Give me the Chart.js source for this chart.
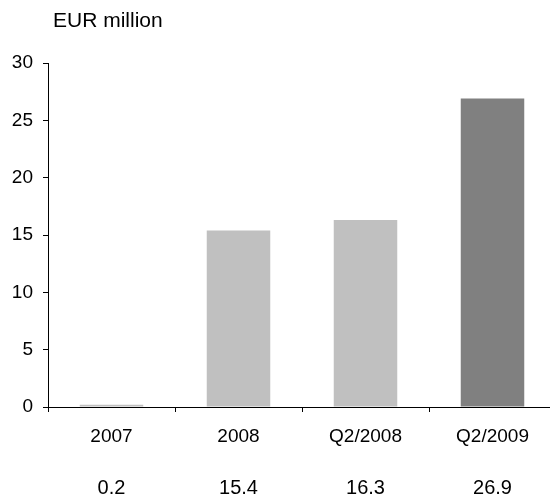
<!DOCTYPE html>
<html>
<head>
<meta charset="utf-8">
<script src="https://cdn.jsdelivr.net/npm/chart.js@4/dist/chart.umd.min.js"></script>
<style>
  html, body { margin: 0; padding: 0; background: #fff; overflow: hidden; }
  #wrap { width: 556px; height: 499px; }
</style>
</head>
<body>
<div id="wrap"><canvas id="barChart"></canvas></div>
<script>
const categories = ['2007', '2008', 'Q2/2008', 'Q2/2009'];
const values     = [0.2, 15.4, 16.3, 26.9];
const barColors  = ['#c0c0c0', '#c0c0c0', '#c0c0c0', '#808080'];
const yTicks     = [0, 5, 10, 15, 20, 25, 30];
const unitLabel  = 'EUR million';

const FONT = 'Liberation Sans, Arial, sans-serif';

// unit caption on top, value row under the category labels
const extraText = {
    id: 'extraText',
    afterDraw(chart) {
        const ctx = chart.ctx;
        const xs = chart.scales.x;
        ctx.save();
        ctx.fillStyle = '#000';
        ctx.textBaseline = 'alphabetic';
        ctx.textAlign = 'left';
        ctx.font = '21px ' + FONT;
        ctx.fillText(unitLabel, 53, 27);
        ctx.textAlign = 'center';
        ctx.font = '20px ' + FONT;
        values.forEach((v, i) => {
            ctx.fillText(v.toFixed(1), xs.getPixelForValue(i), 494);
        });
        ctx.restore();
    }
};

new Chart(document.getElementById('barChart'), {
    type: 'bar',
    data: {
        labels: categories,
        datasets: [{
            data: values,
            backgroundColor: barColors,
            borderWidth: 0,
            categoryPercentage: 1.0,
            barPercentage: 0.5,
        }]
    },
    plugins: [extraText],
    options: {
        responsive: true,
        maintainAspectRatio: false,
        animation: false,
        layout: { padding: { top: 63, right: 0, bottom: 0, left: 0 } },
        plugins: {
            legend: { display: false },
            tooltip: { enabled: false },
        },
        scales: {
            x: {
                afterFit: s => { s.height = 92; },
                grid: {
                    offset: true,
                    drawOnChartArea: false,
                    drawTicks: true,
                    tickLength: 5,
                    color: '#000',
                },
                border: { color: '#000', width: 1 },
                ticks: {
                    color: '#000',
                    font: { family: FONT, size: 19 },
                    padding: 13,
                    maxRotation: 0,
                },
            },
            y: {
                min: 0,
                max: 30,
                afterFit: s => { s.width = 48; },
                afterBuildTicks: s => { s.ticks = yTicks.map(v => ({ value: v })); },
                grid: {
                    drawOnChartArea: false,
                    drawTicks: true,
                    tickLength: 5,
                    color: '#000',
                },
                border: { color: '#000', width: 1 },
                ticks: {
                    color: '#000',
                    font: { family: FONT, size: 19 },
                    padding: 10,
                },
            }
        }
    }
});
</script>
</body>
</html>
